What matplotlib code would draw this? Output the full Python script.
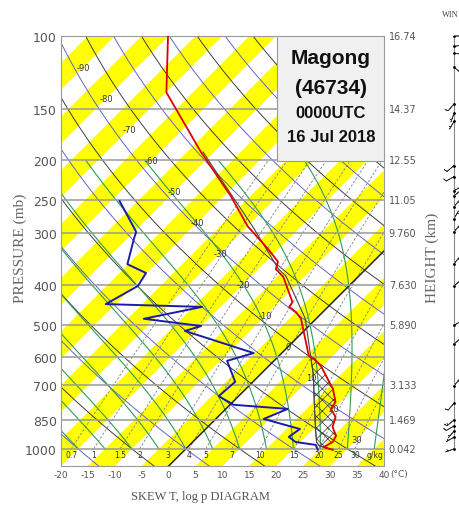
import numpy as np
import matplotlib.pyplot as plt

plt.rcParams["hatch.linewidth"] = 0.5

# environmental temperature (mb, deg C)
temp_p = [1005, 990, 962, 930, 885, 837, 800, 770, 716, 630, 605, 596, 484, 466, 453, 441,
          383, 367, 352, 328, 289, 244, 191, 137, 100]
temp_t = [27.5, 25.3, 26.0, 25.5, 23.2, 21.9, 19.5, 19.1, 16.2, 9.7, 7.1, 5.6, -2.8, -5.0, -7.2, -7.5,
          -13.9, -16.7, -17.7, -21.9, -29.9, -38.7, -52.4, -69.9, -80.1]

# dewpoint
dewp_p = [1005, 978, 962, 935, 895, 846, 800, 782, 745, 688, 612, 586, 518, 504, 484, 453, 446,
          403, 375, 357, 310, 298, 251]
dewp_t = [24.7, 23.4, 19.1, 16.9, 17.5, 8.9, 11.5, 0.7, -3.7, -3.3, -8.7, -5.2, -22.1, -20.0, -32.0, -23.4, -41.8,
          -39.2, -40.1, -45.2, -48.7, -49.6, -58.4]

# lifted parcel
parcel_p = [1005, 983, 962, 895, 769, 663, 605, 484, 441, 381, 367, 289, 222, 191]
parcel_t = [27.5, 24.2, 23.0, 20.4, 15.1, 10.0, 6.5, -2.0, -6.5, -13.6, -16.2, -29.0, -43.7, -52.0]

# winds
wind_p = [100, 106, 110, 119, 146, 154, 161, 206, 219, 237, 244, 259, 277, 298, 356, 403,
          502, 557, 703, 775, 851, 880, 905, 937, 1000]
wind_dir = [90, 80, 100, 130, 220, 200, 210, 230, 240, 60, 50, 40, 30, 40, 40, 50,
            60, 50, 40, 220, 230, 240, 220, 240, 250]
wind_spd = [5, 5, 5, 10, 10, 5, 5, 10, 10, 5, 5, 5, 5, 5, 5, 5,
            5, 5, 5, 10, 15, 10, 5, 5, 5]

isobars = [100, 150, 200, 250, 300, 400, 500, 600, 700, 850, 1000]
heights = ["16.74", "14.37", "12.55", "11.05", "9.760", "7.630", "5.890", "", "3.133", "1.469", "0.042"]
mix_ratios = [0.7, 1, 1.5, 2, 3, 4, 5, 7, 10, 15, 20, 25, 30]
mix_labels = ["0.7", "1", "1.5", "2", "3", "4", "5", "7", "10", "15", "20", "25", "30"]
iso_labels = list(range(-90, 40, 10))

P_BOT, P_TOP = 1100, 100
SKEW = 76.8


def skew(t, p):
    return np.asarray(t, float) + SKEW * np.log10(P_BOT / np.asarray(p, float))


def dewpoint(w, p):
    e = w * p / (622.0 + w)
    a = np.log(e / 6.112)
    return 243.5 * a / (17.67 - a)


def moist(tw, plev):
    t = tw + 273.15
    out = [t]
    for p0, p1 in zip(plev[:-1], plev[1:]):
        es = 6.112 * np.exp(17.67 * (t - 273.15) / (t - 29.65))
        rs = 0.622 * es / (p0 - es)
        dtdp = (287.0 * t + 2.5e6 * rs) / (1004.0 + 2.5e6 ** 2 * rs * 0.622 / (287.0 * t ** 2)) / p0
        t = t + dtdp * (p1 - p0)
        out.append(t)
    return np.array(out) - 273.15


fig = plt.figure(figsize=(4.6, 5.06), dpi=100)
ax = fig.add_axes([61 / 460, 39 / 506, 323 / 460, 430 / 506])
ax.set_yscale("log")
ax.set_ylim(P_BOT, P_TOP)
ax.set_xlim(-20, 40)

# yellow isotherm bands
for t0 in range(-125, 40, 10):
    pp = [P_BOT, P_BOT, P_TOP, P_TOP]
    ax.fill(skew([t0, t0 + 5, t0 + 5, t0], pp), pp, color="#ffff00", lw=0, zorder=0)

# dry adiabats
pfull = np.logspace(np.log10(P_BOT), 2, 200)
for th in range(-40, 220, 10):
    t = (th + 273.15) * (pfull / 1000.0) ** 0.2857 - 273.15
    col = "#333333" if (th // 10) % 2 else "#5c5cbf"
    ax.plot(skew(t, pfull), pfull, color=col, lw=0.65, zorder=2)

# moist adiabats
pm = np.linspace(1000, 200, 801)
for tw in range(-30, 40, 5):
    ax.plot(skew(moist(tw, pm), pm), pm, color="#2f9e4f", lw=0.8, zorder=2)

# mixing ratio lines
pw = np.linspace(1000, 200, 100)
for w, lab in zip(mix_ratios, mix_labels):
    ax.plot(skew(dewpoint(w, pw), pw), pw, color="#808080", lw=0.6, ls=(0, (3, 2)), zorder=2)
    ax.text(skew(dewpoint(w, 1000), 1000), 1030, lab, fontsize=5.5, ha="center", va="center",
            color="#333333", zorder=5)
ax.text(38.3, 1030, "g/kg", fontsize=5.5, ha="center", va="center", color="#333333", zorder=5)

# 0 C isotherm
ax.plot(skew([0, 0], [P_BOT, P_TOP]), [P_BOT, P_TOP], color="#222222", lw=1.1, zorder=3)

# isotherm labels
for t in iso_labels:
    pl = 118.9 * 1.189 ** ((t + 90) / 10)
    ax.text(skew(t, pl), pl, str(t), fontsize=6, ha="center", va="center", color="#333333", zorder=5)

# isobars
for p in isobars[1:]:
    ax.axhline(p, color="#9a9a9a", lw=1.1, zorder=3)

# CIN area
cin_env = [i for i, p in enumerate(temp_p) if p >= 605]
cin_par = [i for i, p in enumerate(parcel_p) if p >= 605]
xs = list(skew([temp_t[i] for i in cin_env], [temp_p[i] for i in cin_env]))
ys = [temp_p[i] for i in cin_env]
xs += list(skew([parcel_t[i] for i in cin_par[::-1]], [parcel_p[i] for i in cin_par[::-1]]))
ys += [parcel_p[i] for i in cin_par[::-1]]
ax.fill(xs, ys, fill=False, hatch="xxx", edgecolor="#333333", lw=0.6, zorder=4)

# soundings
ax.plot(skew(parcel_t, parcel_p), parcel_p, color="#444444", lw=0.8, zorder=5)
ax.plot(skew(dewp_t, dewp_p), dewp_p, color="#1c1ca8", lw=1.4, zorder=6)
ax.plot(skew(temp_t, temp_p), temp_p, color="#e00000", lw=1.3, zorder=6)

# axes styling
ax.minorticks_off()
ax.set_yticks(isobars)
ax.set_yticklabels([str(p) for p in isobars], fontsize=9, color="#555555")
ax.set_xticks(range(-20, 45, 5))
ax.set_xticklabels([str(t) for t in range(-20, 45, 5)], fontsize=6.5, color="#555555")
ax.tick_params(length=0, pad=3)
for s in ax.spines.values():
    s.set_color("#999999")
    s.set_linewidth(0.8)

tr = ax.get_yaxis_transform()
for p, h in zip(isobars, heights):
    ax.text(1.015, p, h, transform=tr, fontsize=7, color="#555555", va="center", ha="left")
ax.text(1.018, -0.008, "(°C)", transform=ax.transAxes, fontsize=6.5, color="#555555", va="top", ha="left")

# title box
ax.add_patch(plt.Rectangle((0.669, 0.709), 0.331, 0.291, transform=ax.transAxes,
                           facecolor="#f0f0f0", edgecolor="#999999", lw=0.8, zorder=7))
for txt, yy, fs in [("Magong", 0.949, 15), ("(46734)", 0.881, 15),
                    ("0000UTC", 0.821, 12), ("16 Jul 2018", 0.767, 12)]:
    ax.text(0.836, yy, txt, transform=ax.transAxes, fontsize=fs, fontweight="bold",
            family="Liberation Sans", ha="center", va="center", color="#111111", zorder=8)

fig.text(0.043, 0.51, "PRESSURE (mb)", rotation=90, family="Liberation Serif", fontsize=11,
         color="#666666", ha="center", va="center")
fig.text(0.939, 0.49, "HEIGHT (km)", rotation=90, family="Liberation Serif", fontsize=11,
         color="#666666", ha="center", va="center")
fig.text(0.435, 0.018, "SKEW T, log p DIAGRAM", family="Liberation Serif", fontsize=9,
         color="#555555", ha="center", va="center")
fig.text(0.997, 1 - 15 / 506, "WIN", family="Liberation Serif", fontsize=6,
         color="#444444", ha="right", va="center")

# wind barbs
wax = fig.add_axes([440 / 460, 39 / 506, 20 / 460, 430 / 506])
wax.set_yscale("log")
wax.set_ylim(P_BOT, P_TOP)
wax.set_xlim(-7, 3)
wax.axis("off")
wax.plot([0, 0], [1000, 100], color="#888888", lw=0.8)
wd = np.radians(wind_dir)
u = -np.array(wind_spd) * np.sin(wd)
v = -np.array(wind_spd) * np.cos(wd)
x0 = np.zeros(len(wind_p))
wax.plot(x0, wind_p, "k.", ms=2)
wax.barbs(x0, wind_p, u, v, length=3.6, lw=0.5, color="#333333", clip_on=False,
          sizes=dict(height=0.35, spacing=0.2))

fig.savefig("out.png", dpi=100)
